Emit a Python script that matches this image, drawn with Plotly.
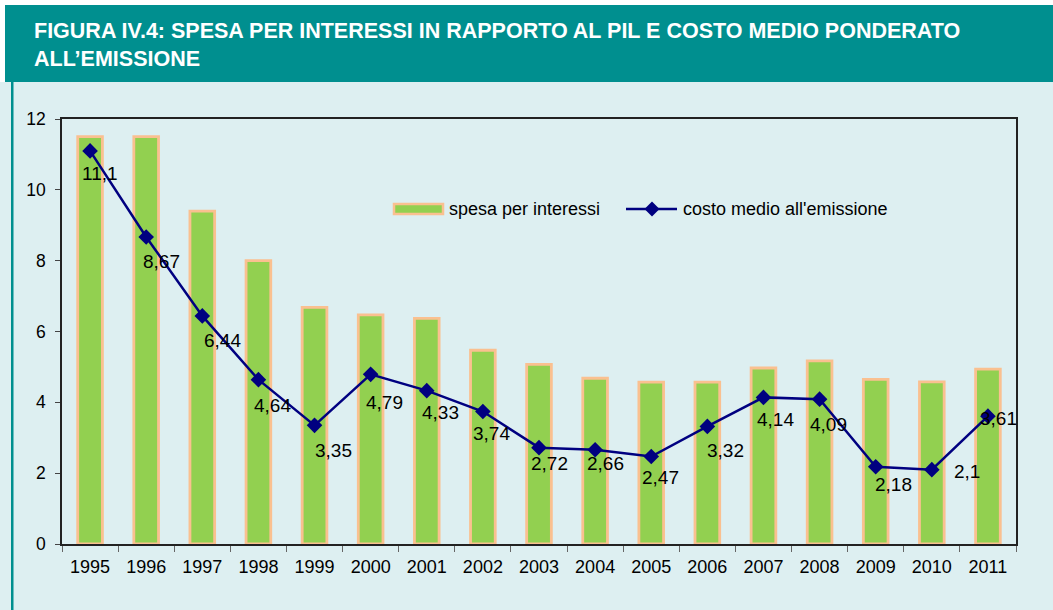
import plotly.graph_objects as go

years = ["1995", "1996", "1997", "1998", "1999", "2000", "2001", "2002", "2003",
         "2004", "2005", "2006", "2007", "2008", "2009", "2010", "2011"]
spesa_interessi = [11.5, 11.5, 9.4, 8.0, 6.68, 6.47, 6.37, 5.47, 5.07, 4.68, 4.57, 4.57,
                   4.97, 5.17, 4.65, 4.58, 4.94]
costo_medio = [11.1, 8.67, 6.44, 4.64, 3.35, 4.79, 4.33, 3.74, 2.72, 2.66, 2.47,
               3.32, 4.14, 4.09, 2.18, 2.1, 3.61]

# label offsets in pixels (dx right, dy down) - styling only
label_dx = [10, 15, 20, 14, 19, 14, 14, 9, 10, 10, 9, 18, 12, 9, 18, 35, 11]
label_dy = [23, 25, 25, 26, 25, 28, 22, 22, 16, 14, 21, 24, 22, 25, 18, 2, 2]

BG = "#DDEFF1"
TEAL = "#008F8F"
FONT = "Liberation Sans, Arial, sans-serif"
GREEN = "#92D050"
PEACH = "#FAC090"
NAVY = "#000080"

L, R, T, B = 62, 37, 119, 66
W, H = 1053, 610
pw, ph = W - L - R, H - T - B

def px_x(px):
    return (px - L) / pw

def px_y(py):
    return 1 - (py - T) / ph

fig = go.Figure()
fig.add_trace(go.Bar(
    x=years, y=spesa_interessi, name="spesa per interessi",
    marker=dict(color=GREEN, line=dict(color=PEACH, width=2.8)),
    width=0.44, showlegend=False,
))
fig.add_trace(go.Scatter(
    x=years, y=costo_medio, name="costo medio all'emissione",
    mode="lines+markers",
    line=dict(color=NAVY, width=2.5),
    marker=dict(symbol="diamond", size=12, color=NAVY),
    showlegend=False,
))

annotations = []
for i, (v, dx, dy) in enumerate(zip(costo_medio, label_dx, label_dy)):
    annotations.append(dict(
        x=i, y=v, xref="x", yref="y", text=f"{v:g}".replace(".", ","),
        showarrow=False, xshift=dx, yshift=-dy,
        font=dict(family=FONT, size=19, color="#000000"),
    ))

# title
annotations.append(dict(
    x=px_x(32), y=px_y(45), xref="paper", yref="paper", xanchor="left", yanchor="middle",
    text="FIGURA IV.4: SPESA PER INTERESSI IN RAPPORTO AL PIL E COSTO MEDIO PONDERATO<br>ALL’EMISSIONE",
    showarrow=False, align="left",
    font=dict(family=FONT, size=21.5, color="#FFFFFF", weight="bold"),
))

# manual legend texts
annotations.append(dict(
    x=px_x(447), y=px_y(209), xref="paper", yref="paper", xanchor="left", yanchor="middle",
    text="spesa per interessi", showarrow=False,
    font=dict(family=FONT, size=18, color="#000000"),
))
annotations.append(dict(
    x=px_x(681), y=px_y(209), xref="paper", yref="paper", xanchor="left", yanchor="middle",
    text="costo medio all'emissione", showarrow=False,
    font=dict(family=FONT, size=18, color="#000000"),
))

dcx, dcy = px_x(652), px_y(209)
ddx, ddy = 7.5 / pw, 7.5 / ph

shapes = [
    dict(type="rect", xref="paper", yref="paper", x0=px_x(0), x1=px_x(W), y0=px_y(5), y1=px_y(0),
         fillcolor="#FFFFFF", line=dict(width=0), layer="below"),
    dict(type="rect", xref="paper", yref="paper", x0=px_x(0), x1=px_x(5), y0=px_y(82), y1=px_y(0),
         fillcolor="#FFFFFF", line=dict(width=0), layer="below"),
    dict(type="rect", xref="paper", yref="paper", x0=px_x(5), x1=px_x(W), y0=px_y(82), y1=px_y(5),
         fillcolor=TEAL, line=dict(width=0), layer="below"),
    dict(type="rect", xref="paper", yref="paper", x0=px_x(11), x1=px_x(13.5), y0=px_y(H), y1=px_y(82),
         fillcolor=TEAL, line=dict(width=0), layer="below"),
    # legend: bar swatch
    dict(type="rect", xref="paper", yref="paper", x0=px_x(394), x1=px_x(443), y0=px_y(214), y1=px_y(204),
         fillcolor=GREEN, line=dict(color=PEACH, width=2.5)),
    # legend: line
    dict(type="line", xref="paper", yref="paper", x0=px_x(626), x1=px_x(677), y0=dcy, y1=dcy,
         line=dict(color=NAVY, width=2.5)),
    dict(type="path", xref="paper", yref="paper",
         path=f"M {dcx-ddx} {dcy} L {dcx} {dcy+ddy} L {dcx+ddx} {dcy} L {dcx} {dcy-ddy} Z",
         fillcolor=NAVY, line=dict(color=NAVY, width=0)),
]

fig.update_layout(
    width=W, height=H,
    margin=dict(l=L, r=R, t=T, b=B, autoexpand=False),
    paper_bgcolor=BG, plot_bgcolor=BG,
    font=dict(family=FONT, size=17, color="#000000"),
    showlegend=False,
    annotations=annotations,
    shapes=shapes,
)
fig.update_xaxes(
    type="category", range=[-0.5, len(years) - 0.5],
    showline=True, linecolor="#222222", linewidth=1.5, mirror=True,
    ticks="outside", tickson="boundaries", ticklen=6, tickcolor="#666666",
    showgrid=False, tickfont=dict(size=18), tickangle=0, ticklabelstandoff=6,
)
fig.update_yaxes(
    range=[0, 12], dtick=2, showline=True, linecolor="#222222", linewidth=1.5, mirror=True,
    ticks="outside", ticklen=5, tickcolor="#444444", showgrid=False, zeroline=False,
    tickfont=dict(size=17.5), ticklabelstandoff=6,
)

fig.write_html(
    "out.html",
    config={"displayModeBar": False},
    post_script="document.body.style.margin='0';document.body.style.overflow='hidden';",
)
